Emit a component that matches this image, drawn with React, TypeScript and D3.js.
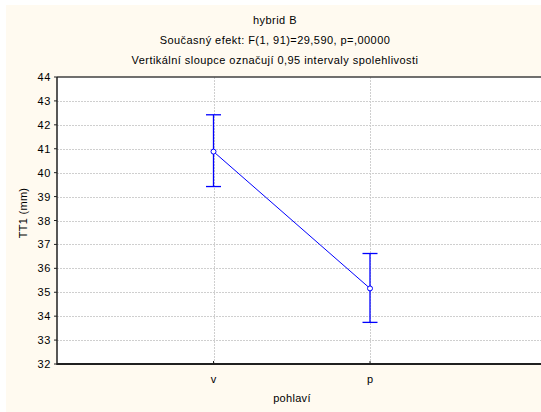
import React, { useRef, useEffect } from "react";
import * as d3 from "d3";

// Data
const categories = ["v", "p"];
const means = [40.88, 35.16];
const lowerCI = [39.42, 33.74];
const upperCI = [42.42, 36.62];
const yTicks = [32, 33, 34, 35, 36, 37, 38, 39, 40, 41, 42, 43, 44];
const titleLines = [
  "hybrid B",
  "Současný efekt: F(1, 91)=29,590, p=,00000",
  "Vertikální sloupce označují 0,95 intervaly spolehlivosti",
];

const W = 541;
const H = 412;

const App = () => {
  const svgRef = useRef<SVGSVGElement>(null);

  useEffect(() => {
    const svg = d3.select(svgRef.current);
    svg.selectAll("*").remove();

    const font = "Arial, 'Liberation Sans', sans-serif";
    const left = 57;
    const top = 77;
    const bottom = 364;
    const right = 548; // plot runs past the cropped edge

    // panel background
    svg.append("rect").attr("x", 6).attr("y", 5).attr("width", W - 6).attr("height", H - 5).attr("fill", "#fffaf0");

    // plot area
    svg.append("rect").attr("x", left).attr("y", top).attr("width", right - left).attr("height", bottom - top).attr("fill", "#ffffff");

    const y = d3.scaleLinear().domain([32, 44]).range([bottom, top]);
    // categories sit at positions 1 and 2 of the axis
    const x = d3.scaleLinear().domain([0, 1]).range([left, left + 156.5]);

    // grid
    const grid = svg.append("g").attr("stroke", "#cfcfcf").attr("stroke-dasharray", "2,1").attr("stroke-width", 1);
    yTicks.slice(1, -1).forEach((t) => {
      grid.append("line").attr("x1", left).attr("x2", right).attr("y1", Math.round(y(t)) + 0.5).attr("y2", Math.round(y(t)) + 0.5);
    });
    categories.forEach((c, i) => {
      const px = Math.round(x(i + 1)) + 0.5;
      grid.append("line").attr("x1", px).attr("x2", px).attr("y1", top).attr("y2", bottom);
    });

    // frame
    svg.append("line").attr("x1", left).attr("x2", right).attr("y1", top).attr("y2", top).attr("stroke", "#404040").attr("stroke-width", 1.5);
    svg.append("line").attr("x1", left).attr("x2", left).attr("y1", top).attr("y2", bottom + 1).attr("stroke", "#202020").attr("stroke-width", 1.5);
    svg.append("line").attr("x1", left).attr("x2", right).attr("y1", bottom).attr("y2", bottom).attr("stroke", "#202020").attr("stroke-width", 2);

    // y axis ticks + labels
    yTicks.forEach((t) => {
      svg.append("line").attr("x1", left - 3).attr("x2", left).attr("y1", y(t)).attr("y2", y(t)).attr("stroke", "#202020");
      svg
        .append("text")
        .attr("x", left - 6)
        .attr("y", y(t) + 4)
        .attr("text-anchor", "end")
        .attr("font-family", font)
        .attr("font-size", 11)
        .attr("letter-spacing", 0.6)
        .attr("fill", "#000")
        .text(t);
    });

    // x axis ticks + labels
    categories.forEach((c, i) => {
      const px = x(i + 1);
      svg.append("line").attr("x1", px).attr("x2", px).attr("y1", bottom - 3).attr("y2", bottom).attr("stroke", "#202020");
      svg
        .append("text")
        .attr("x", px)
        .attr("y", 383)
        .attr("text-anchor", "middle")
        .attr("font-family", font)
        .attr("font-size", 11)
        .text(c);
    });

    // axis titles
    svg
      .append("text")
      .attr("x", 292)
      .attr("y", 402)
      .attr("text-anchor", "middle")
      .attr("font-family", font)
      .attr("font-size", 11)
      .attr("letter-spacing", 0.3)
      .text("pohlaví");
    svg
      .append("text")
      .attr("transform", "translate(27,213) rotate(-90)")
      .attr("text-anchor", "middle")
      .attr("font-family", font)
      .attr("font-size", 11)
      .attr("letter-spacing", 0.3)
      .text("TT1 (mm)");

    // titles
    titleLines.forEach((line, i) => {
      svg
        .append("text")
        .attr("x", 275)
        .attr("y", 24 + i * 20)
        .attr("text-anchor", "middle")
        .attr("font-family", font)
        .attr("font-size", 11)
        .attr("letter-spacing", 0.45)
        .text(line);
    });

    // error bars
    const blue = "#0000ff";
    const bars = svg.append("g").attr("stroke", blue).attr("stroke-width", 1.3);
    categories.forEach((c, i) => {
      const px = x(i + 1);
      bars.append("line").attr("x1", px).attr("x2", px).attr("y1", y(lowerCI[i])).attr("y2", y(upperCI[i]));
      bars.append("line").attr("x1", px - 7.5).attr("x2", px + 7.5).attr("y1", y(lowerCI[i])).attr("y2", y(lowerCI[i]));
      bars.append("line").attr("x1", px - 7.5).attr("x2", px + 7.5).attr("y1", y(upperCI[i])).attr("y2", y(upperCI[i]));
    });

    // mean line
    const line = d3
      .line<number>()
      .x((d, i) => x(i + 1))
      .y((d) => y(d));
    svg.append("path").datum(means).attr("fill", "none").attr("stroke", blue).attr("stroke-width", 1).attr("d", line);

    // markers
    svg
      .selectAll("circle.pt")
      .data(means)
      .enter()
      .append("circle")
      .attr("cx", (d, i) => x(i + 1))
      .attr("cy", (d) => y(d))
      .attr("r", 2.5)
      .attr("fill", "#fff")
      .attr("stroke", blue)
      .attr("stroke-width", 1);
  }, []);

  return (
    <svg
      ref={svgRef}
      width={W}
      height={H}
      style={{ position: "absolute", left: 0, top: 0, display: "block" }}
    ></svg>
  );
};

export default App;
